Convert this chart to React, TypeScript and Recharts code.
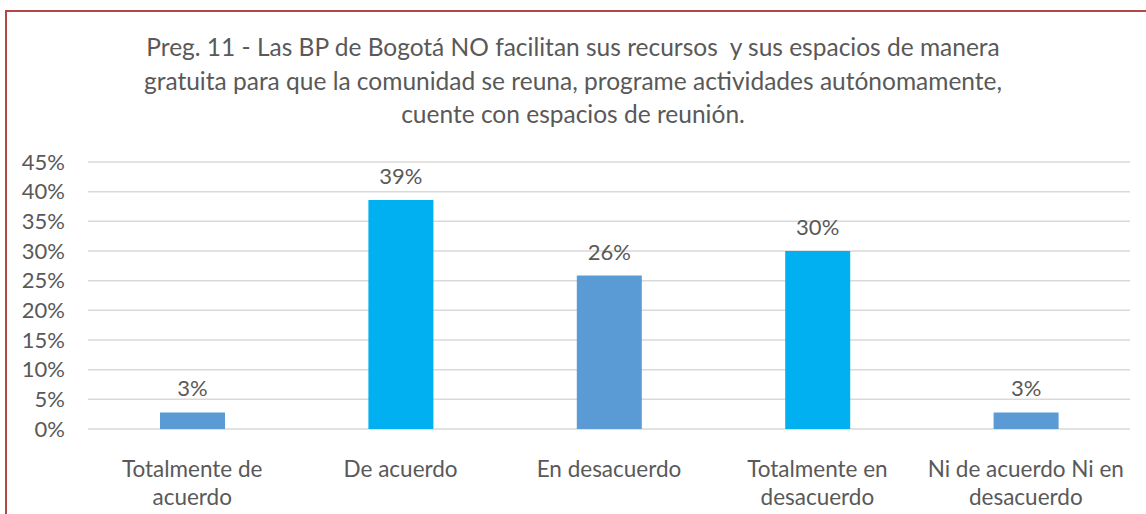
import React from 'react';
import { BarChart, Bar, XAxis, YAxis, CartesianGrid, LabelList, Cell } from 'recharts';

const categories = [
  'Totalmente de acuerdo',
  'De acuerdo',
  'En desacuerdo',
  'Totalmente en desacuerdo',
  'Ni de acuerdo Ni en desacuerdo',
];
const shares = [0.028, 0.386, 0.2585, 0.3, 0.028];
const yTicks = [0, 0.05, 0.1, 0.15, 0.2, 0.25, 0.3, 0.35, 0.4, 0.45];
const titleLines = [
  'Preg. 11 - Las BP de Bogotá NO facilitan sus recursos  y sus espacios de manera',
  'gratuita para que la comunidad se reuna, programe actividades autónomamente,',
  'cuente con espacios de reunión.',
];

const barColors = ['#5B9BD5', '#00B0F0'];
const FONT = 'Lato, "Open Sans", sans-serif';
const TEXT = '#595959';

const data = categories.map((name, i) => ({ name, value: shares[i] }));

const pct = (v: number) => Math.round(v * 100) + '%';

function wrap(label: string, max = 19): string[] {
  const lines: string[] = [];
  let cur = '';
  for (const w of label.split(' ')) {
    const next = cur ? cur + ' ' + w : w;
    if (next.length > max && cur) {
      lines.push(cur);
      cur = w;
    } else {
      cur = next;
    }
  }
  if (cur) lines.push(cur);
  return lines;
}

function CategoryTick({ x, y, payload }: any) {
  const lines = wrap(payload.value);
  return (
    <text x={x} y={y} textAnchor="middle" fill={TEXT} fontSize={22.5} fontFamily={FONT}>
      {lines.map((l, i) => (
        <tspan key={i} x={x} dy={i === 0 ? 40 : 28}>
          {l}
        </tspan>
      ))}
    </text>
  );
}

export default function App() {
  return (
    <div
      style={{
        position: 'absolute',
        left: 0,
        top: 0,
        width: 1146,
        height: 514,
        overflow: 'hidden',
        background: '#fff',
      }}
    >
      <div
        style={{
          position: 'absolute',
          left: 5,
          top: 10,
          width: 1160,
          height: 520,
          border: '2.5px solid #B04845',
          boxSizing: 'border-box',
        }}
      />
      <div
        style={{
          position: 'absolute',
          left: 0,
          top: 30,
          width: 1146,
          textAlign: 'center',
          fontFamily: FONT,
          fontSize: 24.5,
          lineHeight: '33.5px',
          color: TEXT,
          whiteSpace: 'pre',
        }}
      >
        {titleLines.map((t, i) => (
          <div key={i}>{t}</div>
        ))}
      </div>
      <div style={{ position: 'absolute', left: 0, top: 0 }}>
        <BarChart
          width={1146}
          height={514}
          data={data}
          margin={{ top: 162, right: 16, bottom: 0, left: 0 }}
        >
          <CartesianGrid vertical={false} stroke="#D9D9D9" strokeWidth={1.5} />
          <XAxis
            dataKey="name"
            axisLine={false}
            tickLine={false}
            height={85}
            interval={0}
            tick={<CategoryTick />}
          />
          <YAxis
            domain={[0, 0.45]}
            ticks={yTicks}
            interval={0}
            tickFormatter={pct}
            axisLine={false}
            tickLine={false}
            tickSize={0}
            tickMargin={23}
            width={88}
            tick={{ fill: TEXT, fontSize: 22, fontFamily: FONT }}
          />
          <Bar dataKey="value" barSize={65} isAnimationActive={false}>
            {data.map((_, i) => (
              <Cell key={i} fill={barColors[i % 2]} />
            ))}
            <LabelList
              dataKey="value"
              position="top"
              offset={16}
              formatter={(v: any) => pct(Number(v))}
              fill={TEXT}
              fontSize={22}
              fontFamily={FONT}
            />
          </Bar>
        </BarChart>
      </div>
    </div>
  );
}
